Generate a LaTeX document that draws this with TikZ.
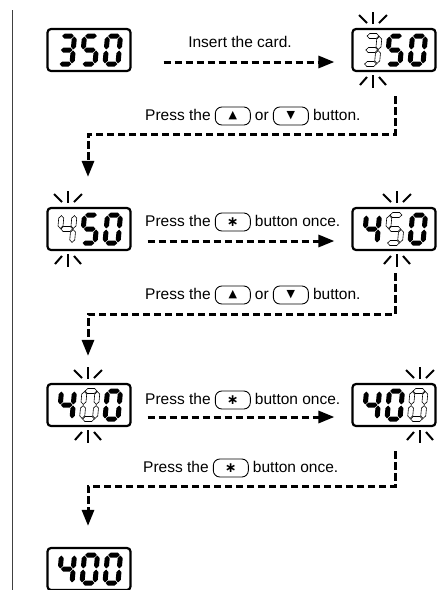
\documentclass[tikz,border=0pt]{standalone}
\usepackage{fontspec}
\setmainfont{Liberation Sans}
\newfontfamily\symfont{DejaVu Sans}
\usetikzlibrary{arrows.meta,calc}

\tikzset{
  lcdbox/.style={draw, line width=2.2pt, rounded corners=3.5pt, minimum width=83pt, minimum height=42pt, inner sep=0pt},
  flow/.style={line width=3pt, dash pattern=on 7.5pt off 3.5pt, -{Triangle[length=16pt,width=12pt]}},
  ray/.style={line width=2pt},
  lbl/.style={font=\fontsize{15.5}{17}\selectfont, inner sep=0pt, text height=11pt, text depth=3pt},
  btn/.style={draw, line width=0.9pt, rounded corners=6.5pt, minimum width=35pt, minimum height=18pt, inner sep=0pt},
  segon/.style={fill=black},
  segoff/.style={draw=black, line width=0.6pt, fill=white},
  edgeline/.style={draw=black!75, line width=0.8pt},
}

\newcommand\segH[4]{\path[#4] ({#1},{#3}) -- ({#1+2.5},{#3-2.5}) -- ({#2-2.5},{#3-2.5}) -- ({#2},{#3}) -- ({#2-2.5},{#3+2.5}) -- ({#1+2.5},{#3+2.5}) -- cycle;}
\newcommand\segV[4]{\path[#4] ({#1},{#2}) -- ({#1+2.5},{#2+2.5}) -- ({#1+2.5},{#3-2.5}) -- ({#1},{#3}) -- ({#1-2.5},{#3-2.5}) -- ({#1-2.5},{#2+2.5}) -- cycle;}
\newcommand\dsega[1]{\segH{0.6}{12.4}{0}{#1}}
\newcommand\dsegg[1]{\segH{0.6}{12.4}{14}{#1}}
\newcommand\dsegd[1]{\segH{0.6}{12.4}{28}{#1}}
\newcommand\dsegf[1]{\segV{0}{0.6}{13.4}{#1}}
\newcommand\dsegb[1]{\segV{13}{0.6}{13.4}{#1}}
\newcommand\dsege[1]{\segV{0}{14.6}{27.4}{#1}}
\newcommand\dsegc[1]{\segV{13}{14.6}{27.4}{#1}}

\newcommand\dig[4]{%
  \begin{scope}[shift={({#1},{#2})}, xslant=0.09]
    \foreach \s in {#3}{\csname dseg\s\endcsname{#4}}
  \end{scope}}

\newcommand\lcd[9]{%
  \node[lcdbox] (#1) at (#2,#3) {};
  \dig{#2-23-4.5}{#3-14}{#4}{#5}
  \dig{#2-4.5}{#3-14}{#6}{#7}
  \dig{#2+23-4.5}{#3-14}{#8}{#9}}

\newcommand\rays[2]{%
  \draw[ray] ({#1},{#2-26}) -- ({#1},{#2-38});
  \draw[ray] ({#1-6},{#2-27}) -- ({#1-14},{#2-35});
  \draw[ray] ({#1+6},{#2-27}) -- ({#1+14},{#2-35});
  \draw[ray] ({#1},{#2+25}) -- ({#1},{#2+38});
  \draw[ray] ({#1-6},{#2+27}) -- ({#1-13},{#2+35});
  \draw[ray] ({#1+6},{#2+27}) -- ({#1+13},{#2+35});}

\newcommand\upicon{{\symfont\fontsize{11}{11}\selectfont ▲}}
\newcommand\downicon{{\symfont\fontsize{11}{11}\selectfont ▼}}
\newcommand\staricon{{\symfont\bfseries\fontsize{14}{14}\selectfont ∗}}

\newcommand\pressarrows[3]{%
  \node[lbl, anchor=west] (#1a) at (#2,#3) {Press the};
  \node[btn, anchor=west] (#1b) at ($(#1a.east)+(4,0)$) {\upicon};
  \node[lbl, anchor=west] (#1c) at ($(#1b.east)+(4,0)$) {or};
  \node[btn, anchor=west] (#1d) at ($(#1c.east)+(4,0)$) {\downicon};
  \node[lbl, anchor=west] (#1e) at ($(#1d.east)+(4,0)$) {button.};}

\newcommand\pressstar[3]{%
  \node[lbl, anchor=west] (#1a) at (#2,#3) {Press the};
  \node[btn, anchor=west] (#1b) at ($(#1a.east)+(4,0)$) {\staricon};
  \node[lbl, anchor=west] (#1c) at ($(#1b.east)+(4,0)$) {button once.};}

\begin{document}
\begin{tikzpicture}[x=1pt,y=-1pt]
\useasboundingbox (0,0) rectangle (437,590);
\draw[edgeline] (12,10) -- (12,590);

% displays
\lcd{D11}{89}{50}{a,b,c,d,g}{segon}{a,c,d,f,g}{segon}{a,b,c,d,e,f}{segon}
\lcd{D12}{394}{50}{a,b,c,d,g}{segoff}{a,c,d,f,g}{segon}{a,b,c,d,e,f}{segon}
\lcd{D21}{89}{229}{b,c,f,g}{segoff}{a,c,d,f,g}{segon}{a,b,c,d,e,f}{segon}
\lcd{D22}{394}{229}{b,c,f,g}{segon}{a,c,d,f,g}{segoff}{a,b,c,d,e,f}{segon}
\lcd{D31}{89}{405}{b,c,f,g}{segon}{a,b,c,d,e,f}{segoff}{a,b,c,d,e,f}{segon}
\lcd{D32}{394}{405}{b,c,f,g}{segon}{a,b,c,d,e,f}{segon}{a,b,c,d,e,f}{segoff}
\lcd{D41}{89}{569}{b,c,f,g}{segon}{a,b,c,d,e,f}{segon}{a,b,c,d,e,f}{segon}

% blinking marks
\rays{373}{50}
\rays{68}{229}
\rays{397}{229}
\rays{88}{405}
\rays{420}{405}

% labels
\node[lbl] (L1) at (240,43) {Insert the card.};
\pressarrows{P1}{145}{116}
\pressstar{R2}{145}{222}
\pressarrows{P2}{145}{295}
\pressstar{R3}{145}{400}
\pressstar{P3}{143}{468}

% connectors
\draw[flow] ($(D11.east)+(32,12)$) -- ($(D12.west)+(-17,12)$);
\draw[flow] ($(D12.south)+(1,24)$) -- ++(0,38) -| ($(D21.north)+(-1,-30)$);
\draw[flow] ($(D21.east)+(16,12)$) -- ($(D22.west)+(-17,12)$);
\draw[flow] ($(D22.south)+(1,22)$) -- ++(0,41) -| ($(D31.north)+(-1,-27)$);
\draw[flow] ($(D31.east)+(16,12)$) -- ($(D32.west)+(-17,12)$);
\draw[flow] ($(D32.south)+(1,24)$) -- ++(0,35) -| ($(D41.north)+(-1,-21)$);
\end{tikzpicture}
\end{document}
